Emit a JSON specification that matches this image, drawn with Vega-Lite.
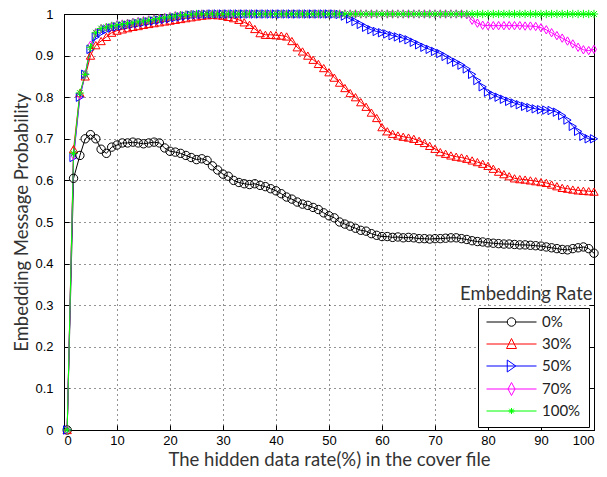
{
  "$schema": "https://vega.github.io/schema/vega-lite/v6.json",
  "width": 530,
  "height": 416,
  "autosize": {"type": "none"},
  "padding": {"left": 64, "top": 14, "right": 13, "bottom": 47},
  "background": "white",
  "config": {
    "view": {"stroke": null},
    "axis": {
      "domainColor": "black",
      "domainWidth": 1,
      "tickColor": "black",
      "tickSize": -5,
      "labelColor": "black",
      "labelFont": "Liberation Sans Narrow, Liberation Sans",
      "labelFontSize": 13,
      "gridColor": "black",
      "gridDash": [1, 4],
      "gridOpacity": 0.85,
      "titleFont": "Lato",
      "titleFontSize": 18.5,
      "titleFontWeight": "normal",
      "titleColor": "#333333"
    },
    "legend": {
      "orient": "none",
      "titleFont": "Lato",
      "titleFontSize": 18.5,
      "titleFontWeight": "normal",
      "titleColor": "#333333",
      "labelFont": "Lato",
      "labelFontSize": 15,
      "labelColor": "#222222"
    }
  },
  "data": {
    "values": [
      {"x": 0.6, "0%": 0, "30%": 0, "50%": 0, "70%": 0, "100%": 0},
      {"x": 1.8, "0%": 0.605, "30%": 0.675, "50%": 0.655, "70%": 0.66, "100%": 0.665},
      {"x": 3, "0%": 0.66, "30%": 0.81, "50%": 0.8, "70%": 0.805, "100%": 0.81},
      {"x": 4, "0%": 0.7, "30%": 0.85, "50%": 0.855, "70%": 0.855, "100%": 0.855},
      {"x": 5, "0%": 0.71, "30%": 0.9, "50%": 0.915, "70%": 0.925, "100%": 0.92},
      {"x": 6, "0%": 0.7, "30%": 0.925, "50%": 0.945, "70%": 0.955, "100%": 0.955},
      {"x": 7, "0%": 0.675, "30%": 0.935, "50%": 0.955, "70%": 0.965, "100%": 0.965},
      {"x": 8, "0%": 0.665, "30%": 0.945, "50%": 0.962, "70%": 0.968, "100%": 0.968},
      {"x": 9, "0%": 0.68, "30%": 0.955, "50%": 0.966, "70%": 0.971, "100%": 0.971},
      {"x": 10, "0%": 0.685, "30%": 0.96, "50%": 0.969, "70%": 0.974, "100%": 0.973},
      {"x": 11, "0%": 0.69, "30%": 0.963, "50%": 0.971, "70%": 0.976, "100%": 0.975},
      {"x": 12, "0%": 0.69, "30%": 0.966, "50%": 0.973, "70%": 0.978, "100%": 0.977},
      {"x": 13, "0%": 0.692, "30%": 0.969, "50%": 0.975, "70%": 0.98, "100%": 0.979},
      {"x": 14, "0%": 0.69, "30%": 0.971, "50%": 0.977, "70%": 0.982, "100%": 0.981},
      {"x": 15, "0%": 0.688, "30%": 0.974, "50%": 0.979, "70%": 0.984, "100%": 0.983},
      {"x": 16, "0%": 0.69, "30%": 0.976, "50%": 0.981, "70%": 0.986, "100%": 0.985},
      {"x": 17, "0%": 0.692, "30%": 0.978, "50%": 0.983, "70%": 0.988, "100%": 0.987},
      {"x": 18, "0%": 0.69, "30%": 0.98, "50%": 0.985, "70%": 0.99, "100%": 0.989},
      {"x": 19, "0%": 0.678, "30%": 0.982, "50%": 0.987, "70%": 0.992, "100%": 0.991},
      {"x": 20, "0%": 0.67, "30%": 0.984, "50%": 0.989, "70%": 0.994, "100%": 0.993},
      {"x": 21, "0%": 0.668, "30%": 0.986, "50%": 0.991, "70%": 0.996, "100%": 0.995},
      {"x": 22, "0%": 0.665, "30%": 0.988, "50%": 0.993, "70%": 0.997, "100%": 0.997},
      {"x": 23, "0%": 0.66, "30%": 0.99, "50%": 0.995, "70%": 0.998, "100%": 0.998},
      {"x": 24, "0%": 0.655, "30%": 0.992, "50%": 0.997, "70%": 0.999, "100%": 0.999},
      {"x": 25, "0%": 0.65, "30%": 0.994, "50%": 0.998, "70%": 0.999, "100%": 1},
      {"x": 26, "0%": 0.652, "30%": 0.996, "50%": 0.999, "70%": 1, "100%": 1},
      {"x": 27, "0%": 0.648, "30%": 0.997, "50%": 0.999, "70%": 1, "100%": 1},
      {"x": 28, "0%": 0.635, "30%": 0.998, "50%": 1, "70%": 1, "100%": 1},
      {"x": 29, "0%": 0.625, "30%": 0.997, "50%": 1, "70%": 1, "100%": 1},
      {"x": 30, "0%": 0.615, "30%": 0.996, "50%": 1, "70%": 1, "100%": 1},
      {"x": 31, "0%": 0.61, "30%": 0.993, "50%": 1, "70%": 1, "100%": 1},
      {"x": 32, "0%": 0.6, "30%": 0.99, "50%": 1, "70%": 1, "100%": 1},
      {"x": 33, "0%": 0.595, "30%": 0.986, "50%": 1, "70%": 1, "100%": 1},
      {"x": 34, "0%": 0.592, "30%": 0.98, "50%": 1, "70%": 1, "100%": 1},
      {"x": 35, "0%": 0.59, "30%": 0.974, "50%": 1, "70%": 1, "100%": 1},
      {"x": 36, "0%": 0.592, "30%": 0.964, "50%": 1, "70%": 1, "100%": 1},
      {"x": 37, "0%": 0.588, "30%": 0.954, "50%": 1, "70%": 1, "100%": 1},
      {"x": 38, "0%": 0.585, "30%": 0.95, "50%": 1, "70%": 1, "100%": 1},
      {"x": 39, "0%": 0.58, "30%": 0.95, "50%": 1, "70%": 1, "100%": 1},
      {"x": 40, "0%": 0.575, "30%": 0.949, "50%": 1, "70%": 1, "100%": 1},
      {"x": 41, "0%": 0.568, "30%": 0.948, "50%": 1, "70%": 1, "100%": 1},
      {"x": 42, "0%": 0.56, "30%": 0.946, "50%": 1, "70%": 1, "100%": 1},
      {"x": 43, "0%": 0.555, "30%": 0.935, "50%": 1, "70%": 1, "100%": 1},
      {"x": 44, "0%": 0.548, "30%": 0.92, "50%": 1, "70%": 1, "100%": 1},
      {"x": 45, "0%": 0.543, "30%": 0.91, "50%": 1, "70%": 1, "100%": 1},
      {"x": 46, "0%": 0.54, "30%": 0.9, "50%": 1, "70%": 1, "100%": 1},
      {"x": 47, "0%": 0.535, "30%": 0.89, "50%": 1, "70%": 1, "100%": 1},
      {"x": 48, "0%": 0.53, "30%": 0.88, "50%": 1, "70%": 1, "100%": 1},
      {"x": 49, "0%": 0.522, "30%": 0.87, "50%": 1, "70%": 1, "100%": 1},
      {"x": 50, "0%": 0.515, "30%": 0.86, "50%": 1, "70%": 1, "100%": 1},
      {"x": 51, "0%": 0.51, "30%": 0.847, "50%": 1, "70%": 1, "100%": 1},
      {"x": 52, "0%": 0.5, "30%": 0.835, "50%": 0.999, "70%": 1, "100%": 1},
      {"x": 53, "0%": 0.495, "30%": 0.822, "50%": 0.995, "70%": 1, "100%": 1},
      {"x": 54, "0%": 0.49, "30%": 0.81, "50%": 0.988, "70%": 1, "100%": 1},
      {"x": 55, "0%": 0.485, "30%": 0.8, "50%": 0.982, "70%": 1, "100%": 1},
      {"x": 56, "0%": 0.48, "30%": 0.788, "50%": 0.975, "70%": 1, "100%": 1},
      {"x": 57, "0%": 0.478, "30%": 0.777, "50%": 0.968, "70%": 1, "100%": 1},
      {"x": 58, "0%": 0.472, "30%": 0.763, "50%": 0.962, "70%": 1, "100%": 1},
      {"x": 59, "0%": 0.468, "30%": 0.75, "50%": 0.958, "70%": 1, "100%": 1},
      {"x": 60, "0%": 0.465, "30%": 0.728, "50%": 0.955, "70%": 1, "100%": 1},
      {"x": 61, "0%": 0.465, "30%": 0.718, "50%": 0.952, "70%": 1, "100%": 1},
      {"x": 62, "0%": 0.463, "30%": 0.712, "50%": 0.948, "70%": 1, "100%": 1},
      {"x": 63, "0%": 0.464, "30%": 0.708, "50%": 0.945, "70%": 1, "100%": 1},
      {"x": 64, "0%": 0.462, "30%": 0.705, "50%": 0.942, "70%": 1, "100%": 1},
      {"x": 65, "0%": 0.463, "30%": 0.703, "50%": 0.938, "70%": 1, "100%": 1},
      {"x": 66, "0%": 0.462, "30%": 0.7, "50%": 0.932, "70%": 1, "100%": 1},
      {"x": 67, "0%": 0.46, "30%": 0.695, "50%": 0.926, "70%": 1, "100%": 1},
      {"x": 68, "0%": 0.46, "30%": 0.69, "50%": 0.92, "70%": 1, "100%": 1},
      {"x": 69, "0%": 0.459, "30%": 0.683, "50%": 0.915, "70%": 1, "100%": 1},
      {"x": 70, "0%": 0.46, "30%": 0.676, "50%": 0.91, "70%": 1, "100%": 1},
      {"x": 71, "0%": 0.46, "30%": 0.668, "50%": 0.905, "70%": 1, "100%": 1},
      {"x": 72, "0%": 0.461, "30%": 0.664, "50%": 0.898, "70%": 1, "100%": 1},
      {"x": 73, "0%": 0.462, "30%": 0.66, "50%": 0.89, "70%": 1, "100%": 1},
      {"x": 74, "0%": 0.462, "30%": 0.657, "50%": 0.884, "70%": 1, "100%": 1},
      {"x": 75, "0%": 0.46, "30%": 0.655, "50%": 0.877, "70%": 1, "100%": 1},
      {"x": 76, "0%": 0.458, "30%": 0.652, "50%": 0.868, "70%": 0.998, "100%": 1},
      {"x": 77, "0%": 0.455, "30%": 0.648, "50%": 0.855, "70%": 0.985, "100%": 1},
      {"x": 78, "0%": 0.453, "30%": 0.644, "50%": 0.84, "70%": 0.978, "100%": 1},
      {"x": 79, "0%": 0.452, "30%": 0.64, "50%": 0.825, "70%": 0.973, "100%": 1},
      {"x": 80, "0%": 0.45, "30%": 0.635, "50%": 0.812, "70%": 0.972, "100%": 1},
      {"x": 81, "0%": 0.449, "30%": 0.628, "50%": 0.805, "70%": 0.972, "100%": 1},
      {"x": 82, "0%": 0.448, "30%": 0.621, "50%": 0.8, "70%": 0.972, "100%": 1},
      {"x": 83, "0%": 0.447, "30%": 0.615, "50%": 0.795, "70%": 0.972, "100%": 1},
      {"x": 84, "0%": 0.447, "30%": 0.61, "50%": 0.79, "70%": 0.972, "100%": 1},
      {"x": 85, "0%": 0.446, "30%": 0.605, "50%": 0.786, "70%": 0.972, "100%": 1},
      {"x": 86, "0%": 0.445, "30%": 0.603, "50%": 0.782, "70%": 0.972, "100%": 1},
      {"x": 87, "0%": 0.445, "30%": 0.602, "50%": 0.778, "70%": 0.971, "100%": 1},
      {"x": 88, "0%": 0.444, "30%": 0.6, "50%": 0.775, "70%": 0.971, "100%": 1},
      {"x": 89, "0%": 0.443, "30%": 0.598, "50%": 0.772, "70%": 0.97, "100%": 1},
      {"x": 90, "0%": 0.442, "30%": 0.596, "50%": 0.77, "70%": 0.967, "100%": 1},
      {"x": 91, "0%": 0.44, "30%": 0.594, "50%": 0.769, "70%": 0.962, "100%": 1},
      {"x": 92, "0%": 0.438, "30%": 0.59, "50%": 0.768, "70%": 0.955, "100%": 1},
      {"x": 93, "0%": 0.436, "30%": 0.586, "50%": 0.764, "70%": 0.948, "100%": 1},
      {"x": 94, "0%": 0.434, "30%": 0.582, "50%": 0.756, "70%": 0.942, "100%": 1},
      {"x": 95, "0%": 0.433, "30%": 0.58, "50%": 0.745, "70%": 0.935, "100%": 1},
      {"x": 96, "0%": 0.436, "30%": 0.578, "50%": 0.73, "70%": 0.928, "100%": 1},
      {"x": 97, "0%": 0.438, "30%": 0.576, "50%": 0.718, "70%": 0.92, "100%": 1},
      {"x": 98, "0%": 0.44, "30%": 0.575, "50%": 0.706, "70%": 0.914, "100%": 1},
      {"x": 99, "0%": 0.436, "30%": 0.574, "50%": 0.7, "70%": 0.912, "100%": 1},
      {"x": 100, "0%": 0.425, "30%": 0.573, "50%": 0.7, "70%": 0.915, "100%": 1}
    ]
  },
  "transform": [
    {"fold": ["0%", "30%", "50%", "70%", "100%"], "as": ["rate", "p"]}
  ],
  "layer": [
    {
      "mark": {"type": "line", "strokeWidth": 1, "clip": false},
      "encoding": {
        "x": {
          "field": "x", "type": "quantitative",
          "scale": {"domain": [0, 100], "nice": false},
          "axis": {"orient": "bottom", "values": [0, 10, 20, 30, 40, 50, 60, 70, 80, 90, 100], "grid": true, "labelPadding": 9, "title": "The hidden data rate(%) in the cover file", "titlePadding": 3}
        },
        "y": {
          "field": "p", "type": "quantitative",
          "scale": {"domain": [0, 1], "nice": false},
          "axis": {"orient": "left", "values": [0, 0.1, 0.2, 0.3, 0.4, 0.5, 0.6, 0.7, 0.8, 0.9, 1], "format": "~g", "grid": true, "labelPadding": 16, "title": "Embedding Message Probability", "titlePadding": 3}
        },
        "stroke": {
          "field": "rate", "type": "nominal",
          "scale": {"domain": ["0%", "30%", "50%", "70%", "100%"], "range": ["#000000", "#ff0000", "#0000ff", "#ff00ff", "#00ff00"]},
          "legend": {
            "title": null,
            "legendX": 414,
            "legendY": 294,
            "strokeColor": "black",
            "fillColor": "white",
            "padding": 8,
            "labelOffset": 5,
            "symbolSize": 2500,
            "symbolStrokeWidth": 1,
            "rowPadding": 6,
            "encoding": {
              "labels": {"y": {"value": 6}},
              "symbols": {
                "y": {"value": 6},
                "shape": {"value": {"expr": "datum.value === '0%' ? 'M-1,0L-0.17,0M0.17,0L1,0M0.17,0A0.17,0.17,0,1,1,-0.17,0A0.17,0.17,0,1,1,0.17,0' : datum.value === '30%' ? 'M-1,0L1,0M-0.2,0.18L0,-0.22L0.2,0.18Z' : datum.value === '50%' ? 'M-1,0L1,0M-0.17,-0.24L0.17,0L-0.17,0.24Z' : datum.value === '70%' ? 'M-1,0L1,0M0,-0.26L0.14,0L0,0.26L-0.14,0Z' : 'M-1,0L1,0M-0.12,0L0.12,0M0,-0.12L0,0.12M-0.09,-0.09L0.09,0.09M-0.09,0.09L0.09,-0.09'"}},
                "size": {"value": 2500},
                "fill": {"value": "transparent"},
                "strokeWidth": {"value": 1}
              }
            }
          }
        }
      }
    },
    {
      "mark": {"type": "point", "filled": false, "size": 70, "strokeWidth": 1, "opacity": 1, "clip": false},
      "encoding": {
        "x": {
          "field": "x", "type": "quantitative",
          "axis": {"orient": "top", "values": [0, 10, 20, 30, 40, 50, 60, 70, 80, 90, 100], "labels": false, "grid": false, "title": null}
        },
        "y": {
          "field": "p", "type": "quantitative",
          "axis": {"orient": "right", "values": [0, 0.1, 0.2, 0.3, 0.4, 0.5, 0.6, 0.7, 0.8, 0.9, 1], "labels": false, "grid": false, "title": null}
        },
        "stroke": {
          "field": "rate", "type": "nominal",
          "legend": {
            "title": null,
            "legendX": 414,
            "legendY": 294,
            "strokeColor": "black",
            "fillColor": "white",
            "padding": 8,
            "labelOffset": 5,
            "symbolSize": 2500,
            "symbolStrokeWidth": 1,
            "rowPadding": 6,
            "encoding": {
              "labels": {"y": {"value": 6}},
              "symbols": {
                "y": {"value": 6},
                "shape": {"value": {"expr": "datum.value === '0%' ? 'M-1,0L-0.17,0M0.17,0L1,0M0.17,0A0.17,0.17,0,1,1,-0.17,0A0.17,0.17,0,1,1,0.17,0' : datum.value === '30%' ? 'M-1,0L1,0M-0.2,0.18L0,-0.22L0.2,0.18Z' : datum.value === '50%' ? 'M-1,0L1,0M-0.17,-0.24L0.17,0L-0.17,0.24Z' : datum.value === '70%' ? 'M-1,0L1,0M0,-0.26L0.14,0L0,0.26L-0.14,0Z' : 'M-1,0L1,0M-0.12,0L0.12,0M0,-0.12L0,0.12M-0.09,-0.09L0.09,0.09M-0.09,0.09L0.09,-0.09'"}},
                "size": {"value": 2500},
                "fill": {"value": "transparent"},
                "strokeWidth": {"value": 1}
              }
            }
          }
        },
        "shape": {
          "field": "rate", "type": "nominal",
          "scale": {"domain": ["100%", "70%", "50%", "30%", "0%"], "range": ["M-1,0L1,0M0,-1L0,1M-0.7,-0.7L0.7,0.7M-0.7,0.7L0.7,-0.7", "M0,-1L0.6,0L0,1L-0.6,0Z", "triangle-right", "triangle-up", "circle"]},
          "legend": {
            "title": "Embedding Rate",
            "values": [],
            "legendX": 396,
            "legendY": 271,
            "strokeColor": "transparent",
            "fillColor": "transparent",
            "padding": 0,
            "titlePadding": 0
          }
        }
      }
    }
  ]
}
